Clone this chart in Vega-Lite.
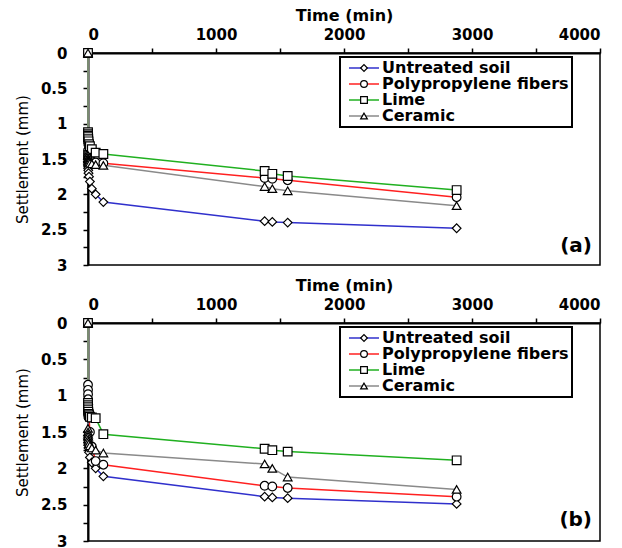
{
  "$schema": "https://vega.github.io/schema/vega-lite/v6.json",
  "background": "white",
  "padding": {"left": 14, "top": 6, "right": 5, "bottom": 0},
  "spacing": 2,
  "config": {
    "font": "DejaVu Sans",
    "view": {"stroke": "black", "strokeWidth": 1.5},
    "axis": {
      "domainColor": "black", "domainWidth": 2, "tickColor": "black", "tickWidth": 1.5, "tickSize": 5,
      "grid": false, "labelFont": "DejaVu Sans", "labelFontWeight": "bold", "labelFontSize": 15,
      "labelColor": "black", "titleColor": "black", "titleFont": "DejaVu Sans"
    },
    "title": {"font": "DejaVu Sans", "fontSize": 20, "fontWeight": "bold", "color": "black"}
  },
  "resolve": {
    "scale": {"color": "independent", "shape": "independent"},
    "legend": {"color": "independent", "shape": "independent"}
  },
  "datasets": {
    "a": [
      {"series": "Untreated soil", "t": 0, "s": 0},
      {"series": "Untreated soil", "t": 0.1, "s": 1.5},
      {"series": "Untreated soil", "t": 0.25, "s": 1.55},
      {"series": "Untreated soil", "t": 0.5, "s": 1.6},
      {"series": "Untreated soil", "t": 1, "s": 1.63},
      {"series": "Untreated soil", "t": 2, "s": 1.66},
      {"series": "Untreated soil", "t": 4, "s": 1.7},
      {"series": "Untreated soil", "t": 8, "s": 1.75},
      {"series": "Untreated soil", "t": 15, "s": 1.82},
      {"series": "Untreated soil", "t": 30, "s": 1.92},
      {"series": "Untreated soil", "t": 60, "s": 2.0},
      {"series": "Untreated soil", "t": 120, "s": 2.11},
      {"series": "Untreated soil", "t": 1380, "s": 2.38},
      {"series": "Untreated soil", "t": 1440, "s": 2.39},
      {"series": "Untreated soil", "t": 1560, "s": 2.4},
      {"series": "Untreated soil", "t": 2880, "s": 2.48},
      {"series": "Polypropylene fibers", "t": 0, "s": 0},
      {"series": "Polypropylene fibers", "t": 0.1, "s": 1.38},
      {"series": "Polypropylene fibers", "t": 0.25, "s": 1.42},
      {"series": "Polypropylene fibers", "t": 0.5, "s": 1.45},
      {"series": "Polypropylene fibers", "t": 1, "s": 1.47},
      {"series": "Polypropylene fibers", "t": 2, "s": 1.49},
      {"series": "Polypropylene fibers", "t": 4, "s": 1.5},
      {"series": "Polypropylene fibers", "t": 8, "s": 1.51},
      {"series": "Polypropylene fibers", "t": 15, "s": 1.52},
      {"series": "Polypropylene fibers", "t": 30, "s": 1.53},
      {"series": "Polypropylene fibers", "t": 60, "s": 1.55},
      {"series": "Polypropylene fibers", "t": 120, "s": 1.56},
      {"series": "Polypropylene fibers", "t": 1380, "s": 1.77},
      {"series": "Polypropylene fibers", "t": 1440, "s": 1.78},
      {"series": "Polypropylene fibers", "t": 1560, "s": 1.8},
      {"series": "Polypropylene fibers", "t": 2880, "s": 2.04},
      {"series": "Lime", "t": 0, "s": 0},
      {"series": "Lime", "t": 0.1, "s": 1.12},
      {"series": "Lime", "t": 0.25, "s": 1.15},
      {"series": "Lime", "t": 0.5, "s": 1.17},
      {"series": "Lime", "t": 1, "s": 1.19},
      {"series": "Lime", "t": 2, "s": 1.22},
      {"series": "Lime", "t": 4, "s": 1.25},
      {"series": "Lime", "t": 8, "s": 1.29},
      {"series": "Lime", "t": 15, "s": 1.32},
      {"series": "Lime", "t": 30, "s": 1.36},
      {"series": "Lime", "t": 60, "s": 1.41},
      {"series": "Lime", "t": 120, "s": 1.43},
      {"series": "Lime", "t": 1380, "s": 1.67},
      {"series": "Lime", "t": 1440, "s": 1.71},
      {"series": "Lime", "t": 1560, "s": 1.74},
      {"series": "Lime", "t": 2880, "s": 1.94},
      {"series": "Ceramic", "t": 0, "s": 0},
      {"series": "Ceramic", "t": 0.1, "s": 1.45},
      {"series": "Ceramic", "t": 0.25, "s": 1.48},
      {"series": "Ceramic", "t": 0.5, "s": 1.5},
      {"series": "Ceramic", "t": 1, "s": 1.52},
      {"series": "Ceramic", "t": 2, "s": 1.53},
      {"series": "Ceramic", "t": 4, "s": 1.54},
      {"series": "Ceramic", "t": 8, "s": 1.55},
      {"series": "Ceramic", "t": 15, "s": 1.56},
      {"series": "Ceramic", "t": 30, "s": 1.57},
      {"series": "Ceramic", "t": 60, "s": 1.58},
      {"series": "Ceramic", "t": 120, "s": 1.59},
      {"series": "Ceramic", "t": 1380, "s": 1.89},
      {"series": "Ceramic", "t": 1440, "s": 1.92},
      {"series": "Ceramic", "t": 1560, "s": 1.95},
      {"series": "Ceramic", "t": 2880, "s": 2.16}
    ],
    "b": [
      {"series": "Untreated soil", "t": 0, "s": 0},
      {"series": "Untreated soil", "t": 0.1, "s": 1.5},
      {"series": "Untreated soil", "t": 0.25, "s": 1.55},
      {"series": "Untreated soil", "t": 0.5, "s": 1.6},
      {"series": "Untreated soil", "t": 1, "s": 1.64},
      {"series": "Untreated soil", "t": 2, "s": 1.68},
      {"series": "Untreated soil", "t": 4, "s": 1.72},
      {"series": "Untreated soil", "t": 8, "s": 1.78},
      {"series": "Untreated soil", "t": 15, "s": 1.85},
      {"series": "Untreated soil", "t": 30, "s": 1.92},
      {"series": "Untreated soil", "t": 60, "s": 2.0},
      {"series": "Untreated soil", "t": 120, "s": 2.11},
      {"series": "Untreated soil", "t": 1380, "s": 2.39},
      {"series": "Untreated soil", "t": 1440, "s": 2.4},
      {"series": "Untreated soil", "t": 1560, "s": 2.41},
      {"series": "Untreated soil", "t": 2880, "s": 2.49},
      {"series": "Polypropylene fibers", "t": 0, "s": 0},
      {"series": "Polypropylene fibers", "t": 0.1, "s": 0.85},
      {"series": "Polypropylene fibers", "t": 0.25, "s": 0.92},
      {"series": "Polypropylene fibers", "t": 0.5, "s": 0.98},
      {"series": "Polypropylene fibers", "t": 1, "s": 1.05},
      {"series": "Polypropylene fibers", "t": 2, "s": 1.12},
      {"series": "Polypropylene fibers", "t": 4, "s": 1.2},
      {"series": "Polypropylene fibers", "t": 8, "s": 1.3},
      {"series": "Polypropylene fibers", "t": 15, "s": 1.5},
      {"series": "Polypropylene fibers", "t": 30, "s": 1.7},
      {"series": "Polypropylene fibers", "t": 60, "s": 1.9},
      {"series": "Polypropylene fibers", "t": 120, "s": 1.95},
      {"series": "Polypropylene fibers", "t": 1380, "s": 2.24},
      {"series": "Polypropylene fibers", "t": 1440, "s": 2.25},
      {"series": "Polypropylene fibers", "t": 1560, "s": 2.27},
      {"series": "Polypropylene fibers", "t": 2880, "s": 2.39},
      {"series": "Lime", "t": 0, "s": 0},
      {"series": "Lime", "t": 0.1, "s": 1.1},
      {"series": "Lime", "t": 0.25, "s": 1.13},
      {"series": "Lime", "t": 0.5, "s": 1.16},
      {"series": "Lime", "t": 1, "s": 1.19},
      {"series": "Lime", "t": 2, "s": 1.22},
      {"series": "Lime", "t": 4, "s": 1.25},
      {"series": "Lime", "t": 8, "s": 1.27},
      {"series": "Lime", "t": 15, "s": 1.29},
      {"series": "Lime", "t": 30, "s": 1.3},
      {"series": "Lime", "t": 60, "s": 1.31},
      {"series": "Lime", "t": 120, "s": 1.53},
      {"series": "Lime", "t": 1380, "s": 1.73},
      {"series": "Lime", "t": 1440, "s": 1.75},
      {"series": "Lime", "t": 1560, "s": 1.77},
      {"series": "Lime", "t": 2880, "s": 1.89},
      {"series": "Ceramic", "t": 0, "s": 0},
      {"series": "Ceramic", "t": 0.1, "s": 1.45},
      {"series": "Ceramic", "t": 0.25, "s": 1.5},
      {"series": "Ceramic", "t": 0.5, "s": 1.53},
      {"series": "Ceramic", "t": 1, "s": 1.56},
      {"series": "Ceramic", "t": 2, "s": 1.6},
      {"series": "Ceramic", "t": 4, "s": 1.63},
      {"series": "Ceramic", "t": 8, "s": 1.66},
      {"series": "Ceramic", "t": 15, "s": 1.69},
      {"series": "Ceramic", "t": 30, "s": 1.72},
      {"series": "Ceramic", "t": 60, "s": 1.75},
      {"series": "Ceramic", "t": 120, "s": 1.79},
      {"series": "Ceramic", "t": 1380, "s": 1.94},
      {"series": "Ceramic", "t": 1440, "s": 2.0},
      {"series": "Ceramic", "t": 1560, "s": 2.12},
      {"series": "Ceramic", "t": 2880, "s": 2.29}
    ]
  },
  "vconcat": [
    {
      "width": 512,
      "height": 212,
      "data": {"name": "a"},
      "title": {"text": "(a)", "orient": "bottom", "anchor": "end", "frame": "group", "offset": -37, "dx": -8},
      "encoding": {
        "x": {
          "field": "t", "type": "quantitative",
          "scale": {"domain": [0, 4000], "nice": false},
          "axis": {
            "orient": "top", "title": "Time (min)", "titleFontSize": 16, "titleFontWeight": "bold",
            "values": [0, 500, 1000, 1500, 2000, 2500, 3000, 3500, 4000], "format": "d",
            "labelExpr": "datum.value % 1000 === 0 ? datum.label : ''",
            "labelPadding": 6, "titlePadding": 4
          }
        },
        "y": {
          "field": "s", "type": "quantitative",
          "scale": {"domain": [0, 3], "reverse": true, "nice": false, "zero": false},
          "axis": {
            "title": "Settlement (mm)", "titleFontSize": 15, "titleFontWeight": "normal",
            "values": [0, 0.25, 0.5, 0.75, 1, 1.25, 1.5, 1.75, 2, 2.25, 2.5, 2.75, 3], "format": "~g",
            "labelExpr": "(datum.value * 2) % 1 === 0 ? datum.label : ''",
            "labelPadding": 16, "titlePadding": 10
          }
        }
      },
      "layer": [
        {
          "mark": {"type": "line", "strokeWidth": 1.5},
          "encoding": {
            "color": {
              "field": "series", "type": "nominal",
              "sort": ["Untreated soil", "Polypropylene fibers", "Lime", "Ceramic"],
              "scale": {"range": ["#3030cc", "#ff2020", "#20b020", "#8a8a8a"]},
              "legend": {
                "title": null, "orient": "none", "legendX": 252, "legendY": 4,
                "symbolType": "M-3,0H3", "symbolSize": 100, "symbolStrokeWidth": 1.5,
                "symbolOffset": 13, "labelOffset": 10, "labelLimit": 400,
                "labelExpr": "datum.label + '\u2003\u2002'",
                "labelFont": "DejaVu Sans", "labelFontSize": 16, "labelFontWeight": "bold", "labelColor": "black",
                "strokeColor": "black", "fillColor": "white", "padding": 3, "rowPadding": 0,
                "encoding": {"legend": {"strokeWidth": {"value": 2}}}
              }
            }
          }
        },
        {
          "mark": {"type": "point", "filled": true, "fill": "white", "stroke": "black", "strokeWidth": 1.2, "size": 75, "opacity": 1},
          "encoding": {
            "shape": {
              "field": "series", "type": "nominal",
              "scale": {"domain": ["Untreated soil", "Polypropylene fibers", "Lime", "Ceramic"], "range": ["diamond", "circle", "square", "triangle-up"]},
              "legend": {
                "title": null, "orient": "none", "legendX": 252, "legendY": 4,
                "symbolSize": 45, "symbolStrokeWidth": 1.2, "symbolFillColor": "white", "symbolStrokeColor": "black",
                "symbolOffset": 13, "labelOffset": 10, "labelOpacity": 0, "labelLimit": 400,
                "labelExpr": "' '",
                "labelFont": "DejaVu Sans", "labelFontSize": 16, "labelFontWeight": "bold",
                "padding": 3, "rowPadding": 0,
                "encoding": {"symbols": {"stroke": {"value": "black"}, "fill": {"value": "white"}, "strokeWidth": {"value": 1.2}, "opacity": {"value": 1}}}
              }
            }
          }
        }
      ]
    },
    {
      "width": 512,
      "height": 218,
      "data": {"name": "b"},
      "title": {"text": "(b)", "orient": "bottom", "anchor": "end", "frame": "group", "offset": -39, "dx": -8},
      "encoding": {
        "x": {
          "field": "t", "type": "quantitative",
          "scale": {"domain": [0, 4000], "nice": false},
          "axis": {
            "orient": "top", "title": "Time (min)", "titleFontSize": 16, "titleFontWeight": "bold",
            "values": [0, 500, 1000, 1500, 2000, 2500, 3000, 3500, 4000], "format": "d",
            "labelExpr": "datum.value % 1000 === 0 ? datum.label : ''",
            "labelPadding": 6, "titlePadding": 4
          }
        },
        "y": {
          "field": "s", "type": "quantitative",
          "scale": {"domain": [0, 3], "reverse": true, "nice": false, "zero": false},
          "axis": {
            "title": "Settlement (mm)", "titleFontSize": 15, "titleFontWeight": "normal",
            "values": [0, 0.25, 0.5, 0.75, 1, 1.25, 1.5, 1.75, 2, 2.25, 2.5, 2.75, 3], "format": "~g",
            "labelExpr": "(datum.value * 2) % 1 === 0 ? datum.label : ''",
            "labelPadding": 16, "titlePadding": 10
          }
        }
      },
      "layer": [
        {
          "mark": {"type": "line", "strokeWidth": 1.5},
          "encoding": {
            "color": {
              "field": "series", "type": "nominal",
              "sort": ["Untreated soil", "Polypropylene fibers", "Lime", "Ceramic"],
              "scale": {"range": ["#3030cc", "#ff2020", "#20b020", "#8a8a8a"]},
              "legend": {
                "title": null, "orient": "none", "legendX": 252, "legendY": 4,
                "symbolType": "M-3,0H3", "symbolSize": 100, "symbolStrokeWidth": 1.5,
                "symbolOffset": 13, "labelOffset": 10, "labelLimit": 400,
                "labelExpr": "datum.label + '\u2003\u2002'",
                "labelFont": "DejaVu Sans", "labelFontSize": 16, "labelFontWeight": "bold", "labelColor": "black",
                "strokeColor": "black", "fillColor": "white", "padding": 3, "rowPadding": 0,
                "encoding": {"legend": {"strokeWidth": {"value": 2}}}
              }
            }
          }
        },
        {
          "mark": {"type": "point", "filled": true, "fill": "white", "stroke": "black", "strokeWidth": 1.2, "size": 75, "opacity": 1},
          "encoding": {
            "shape": {
              "field": "series", "type": "nominal",
              "scale": {"domain": ["Untreated soil", "Polypropylene fibers", "Lime", "Ceramic"], "range": ["diamond", "circle", "square", "triangle-up"]},
              "legend": {
                "title": null, "orient": "none", "legendX": 252, "legendY": 4,
                "symbolSize": 45, "symbolStrokeWidth": 1.2, "symbolFillColor": "white", "symbolStrokeColor": "black",
                "symbolOffset": 13, "labelOffset": 10, "labelOpacity": 0, "labelLimit": 400,
                "labelExpr": "' '",
                "labelFont": "DejaVu Sans", "labelFontSize": 16, "labelFontWeight": "bold",
                "padding": 3, "rowPadding": 0,
                "encoding": {"symbols": {"stroke": {"value": "black"}, "fill": {"value": "white"}, "strokeWidth": {"value": 1.2}, "opacity": {"value": 1}}}
              }
            }
          }
        }
      ]
    }
  ]
}
